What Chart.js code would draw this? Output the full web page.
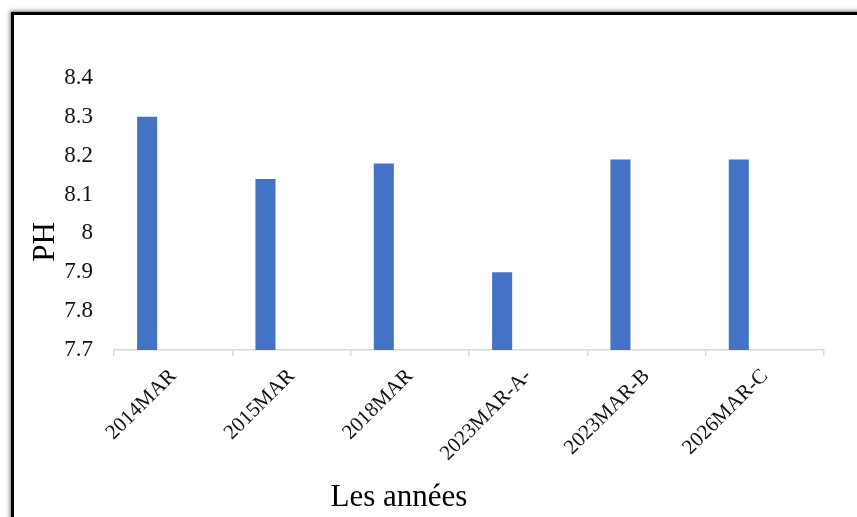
<!DOCTYPE html>
<html lang="fr">
<head>
<meta charset="utf-8">
<title>PH par année</title>
<script src="https://cdn.jsdelivr.net/npm/chart.js@4/dist/chart.umd.min.js"></script>
<style>
  html, body { margin: 0; padding: 0; background: #fff; overflow: hidden; }
  #page { position: relative; width: 857px; height: 517px; }
  /* black frame running off the right and bottom edges */
  #frame {
    position: absolute; left: 11px; top: 12px; width: 900px; height: 560px;
    border-left: 3px solid #000; border-top: 3px solid #000;
    box-shadow: 0 0 4px 1px rgba(0,0,0,0.55);
  }
  #wrap { position: absolute; left: 0; top: 0; width: 857px; height: 517px; }
</style>
</head>
<body>
<div id="page">
  <div id="frame"></div>
  <div id="wrap"><canvas id="chart" width="857" height="517"></canvas></div>
</div>
<script>
// Sampling campaigns and their pH
const categories = ['2014MAR', '2015MAR', '2018MAR', '2023MAR-A-', '2023MAR-B', '2026MAR-C'];
const phValues = [8.3, 8.14, 8.18, 7.9, 8.19, 8.19];
// empty second slot in each cluster, keeps the pH bar on the left of its category
const reservedSlot = [null, null, null, null, null, null];
const yTickLabels = ['7.7', '7.8', '7.9', '8', '8.1', '8.2', '8.3', '8.4'];
const yTitle = 'PH';
const xTitle = 'Les années';

const serif = '"Liberation Serif", "Times New Roman", serif';

// axis titles placed like the original layout
const axisTitles = {
  id: 'axisTitles',
  afterDraw(chart) {
    const ctx = chart.ctx;
    ctx.save();
    ctx.fillStyle = '#000';
    ctx.textAlign = 'center';
    ctx.textBaseline = 'middle';
    ctx.font = '31px ' + serif;
    ctx.translate(46, 242);
    ctx.rotate(-Math.PI / 2);
    ctx.fillText(yTitle, 0, 0);
    ctx.restore();

    ctx.save();
    ctx.fillStyle = '#000';
    ctx.textAlign = 'center';
    ctx.textBaseline = 'middle';
    ctx.font = '31px ' + serif;
    ctx.fillText(xTitle, 399, 498);
    ctx.restore();
  }
};

new Chart(document.getElementById('chart'), {
  type: 'bar',
  data: {
    labels: categories,
    datasets: [
      { label: 'PH', data: phValues, backgroundColor: '#4472c4', borderWidth: 0 },
      { label: '', data: reservedSlot, backgroundColor: 'rgba(0,0,0,0)', borderWidth: 0 }
    ]
  },
  options: {
    responsive: false,
    animation: false,
    devicePixelRatio: 1,
    categoryPercentage: 0.88,
    barPercentage: 0.385,
    layout: { padding: { top: 78, right: 33, bottom: 0, left: 0 } },
    plugins: {
      legend: { display: false },
      tooltip: { enabled: false },
      title: { display: false }
    },
    scales: {
      x: {
        grid: {
          display: true, drawOnChartArea: false, drawTicks: true,
          tickLength: 6, color: '#d9d9d9', lineWidth: 1.5
        },
        border: { display: true, color: '#d9d9d9', width: 1.5 },
        ticks: {
          autoSkip: false, minRotation: 45, maxRotation: 45,
          padding: 8, color: '#111',
          font: { family: serif, size: 21 }
        },
        afterFit(scale) { scale.height = 167; }
      },
      y: {
        min: 7.7, max: 8.4,
        grid: { display: false, drawTicks: false },
        border: { display: false },
        ticks: {
          stepSize: 0.1, padding: 21, color: '#111',
          font: { family: serif, size: 23 },
          callback: (value, index) => yTickLabels[index]
        },
        afterFit(scale) { scale.width = 114; }
      }
    }
  },
  plugins: [axisTitles]
});
</script>
</body>
</html>
